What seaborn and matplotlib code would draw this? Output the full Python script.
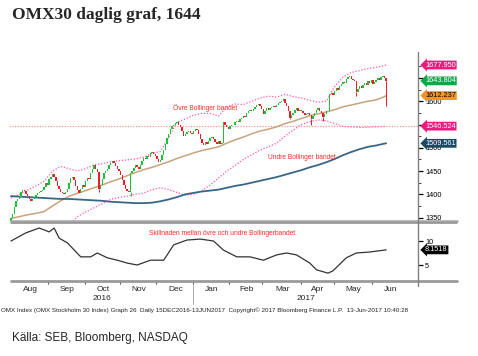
import numpy as np
import pandas as pd
import matplotlib
matplotlib.use("Agg")
import matplotlib.pyplot as plt
import matplotlib.transforms as mtransforms
from matplotlib.lines import Line2D
import seaborn as sns

# --- data ---
start_date = "2016-08-01"
end_date = "2017-06-13"

# daily closes, OMXS30
closes = [
    1348, 1358, 1372, 1385, 1390, 1395, 1404, 1410, 1408, 1400,
    1396, 1390, 1386, 1390, 1394, 1398, 1402, 1405, 1408, 1410,
    1416, 1424, 1421, 1432, 1438, 1443, 1438, 1428, 1418, 1412,
    1406, 1403, 1400, 1405, 1412, 1425, 1434, 1438, 1430, 1418,
    1410, 1402, 1412, 1420, 1416, 1428, 1436, 1432, 1446, 1455,
    1462, 1455, 1448, 1412, 1420, 1432, 1445, 1450, 1455, 1462,
    1468, 1472, 1468, 1460, 1455, 1450, 1442, 1430, 1420, 1412,
    1408, 1405, 1445, 1450, 1456, 1462, 1458, 1455, 1462, 1472,
    1478, 1476, 1483, 1481, 1488, 1490, 1486, 1482, 1476, 1470,
    1474, 1485, 1495, 1508, 1520, 1530, 1540, 1546, 1550, 1553,
    1556, 1550, 1545, 1535, 1526, 1530, 1534, 1536, 1532, 1530,
    1536, 1540, 1538, 1530, 1518, 1510, 1506, 1512, 1508, 1514,
    1520, 1524, 1518, 1512, 1508, 1514, 1508, 1510, 1555, 1550,
    1544, 1540, 1546, 1550, 1548, 1555, 1558, 1556, 1562, 1565,
    1568, 1566, 1574, 1578, 1582, 1578, 1584, 1588, 1592, 1594,
    1590, 1584, 1572, 1578, 1585, 1582, 1586, 1588, 1590, 1588,
    1592, 1596, 1598, 1600, 1604, 1596, 1590, 1580, 1565, 1570,
    1575, 1582, 1585, 1580, 1582, 1578, 1574, 1570, 1572, 1575,
    1570, 1562, 1568, 1575, 1582, 1585, 1580, 1574, 1566, 1572,
    1578, 1580, 1615, 1618, 1614, 1622, 1628, 1625, 1632, 1638,
    1642, 1640, 1648, 1652, 1654, 1648, 1645, 1643, 1620, 1626,
    1632, 1628, 1635, 1640, 1636, 1644, 1640, 1645, 1638, 1642,
    1646, 1650, 1645, 1652, 1655, 1650, 1643.804,
]
first_open = 1340

# long lower shadows that stand out
wick_day = [0, 53, 72, 168, 181, 188, 208, 226]
wick_low = [1338, 1405, 1397, 1561, 1550, 1558, 1612, 1590]

# indicator lines, sampled every 5th trading day plus the last day
band_step = 5
upper_band = [1392, 1400, 1409, 1418, 1428, 1450, 1460, 1455, 1450, 1455,
              1463, 1466, 1470, 1472, 1474, 1476, 1480, 1488, 1492, 1522,
              1555, 1562, 1570, 1574, 1574, 1568, 1588, 1594, 1593, 1600,
              1607, 1611, 1609, 1615, 1610, 1607, 1602, 1598, 1600, 1632,
              1652, 1662, 1666, 1670, 1673, 1677, 1677.950]
lower_band = [1255, 1245, 1240, 1238, 1245, 1262, 1300, 1335, 1352, 1362,
              1371, 1380, 1389, 1393, 1396, 1400, 1403, 1410, 1414, 1410,
              1404, 1398, 1400, 1408, 1420, 1435, 1450, 1462, 1475, 1485,
              1495, 1502, 1510, 1525, 1538, 1550, 1556, 1560, 1558, 1552,
              1546, 1545, 1544, 1544, 1545, 1546, 1546.524]
ma_short = [1348, 1352, 1356, 1359, 1363, 1375, 1386, 1396, 1402, 1408,
            1414, 1420, 1427, 1433, 1440, 1447, 1453, 1458, 1464, 1470,
            1477, 1483, 1489, 1494, 1498, 1502, 1510, 1517, 1523, 1530,
            1536, 1540, 1545, 1552, 1557, 1563, 1569, 1573, 1577, 1582,
            1588, 1592, 1596, 1600, 1603, 1610, 1612.237]
ma_long = [1396, 1395, 1394, 1393, 1392, 1391, 1390, 1390, 1389, 1388,
           1387, 1386, 1384, 1383, 1382, 1381, 1381, 1382, 1385, 1389,
           1394, 1400, 1403, 1406, 1408, 1410, 1414, 1418, 1421, 1425,
           1429, 1433, 1437, 1442, 1447, 1452, 1458, 1463, 1469, 1476,
           1484, 1491, 1497, 1502, 1505, 1509, 1509.561]

# bandwidth panel (trading day number, value)
width_day = [0, 9, 17, 23, 26, 29, 34, 42, 48, 52, 58, 64, 70, 76, 84, 92, 98,
             106, 114, 122, 128, 136, 144, 152, 160, 166, 172, 180, 184, 191,
             194, 202, 208, 216, 226]
width_vals = [10.0, 11.7, 12.7, 11.9, 12.7, 10.6, 9.6, 6.7, 6.7, 7.5, 6.5, 6.0,
              5.4, 5.0, 6.0, 6.0, 9.2, 10.2, 10.4, 10.0, 8.1, 6.7, 6.7, 6.0,
              7.1, 7.5, 7.1, 5.4, 4.0, 3.3, 3.8, 6.5, 7.5, 7.7, 8.1518]

tag_values = [1677.950, 1643.804, 1612.237, 1546.524, 1509.561]
tag_colors = ["#ec1a7e", "#16a34a", "#f7941d", "#ec1a7e", "#184a66"]
tag_text = ["white", "white", "black", "white", "white"]

price_ticks = [1350, 1400, 1450, 1500, 1550, 1600, 1650]
price_labels = ["1350", "1400", "1450", "1500", "", "1600", ""]  # 1550/1650 sit under tags

title = "OMX30 daglig graf, 1644"
label_upper = "Övre Bollinger bandet"
label_lower = "Undre Bollinger bandet"
label_width = "Skillnaden mellan övre och undre Bollingerbandet"
footer = ("OMX Index (OMX Stockholm 30 Index) Graph 26  Daily 15DEC2016-13JUN2017  "
          "Copyright\u00a9 2017 Bloomberg Finance L.P.  13-Jun-2017 10:40:28")
source = "Källa: SEB, Bloomberg, NASDAQ"

# --- setup ---
sns.set_theme(style="white")
plt.rcParams["font.family"] = ["Liberation Sans", "DejaVu Sans"]

days = pd.bdate_range(start_date, end_date)
n = len(days)
pos = np.arange(n)
c = np.array(closes, dtype=float)
o = np.r_[first_open, c[:-1]]
band_pos = np.r_[np.arange(0, n - 1, band_step), n - 1]

W, H = 478, 356
fig = plt.figure(figsize=(W / 100, H / 100), dpi=100)
fig.patch.set_facecolor("white")

def fx(px):
    return px / W

def fy(py):
    return 1 - py / H

ax1 = fig.add_axes([fx(9), fy(221), fx(409), (221 - 56) / H])
ax2 = fig.add_axes([fx(9), fy(280), fx(409), (280 - 223) / H], sharex=ax1)

xmax = (418 - 9) / 1.66 - 1.2
ax1.set_xlim(-1.2, xmax)
ax1.set_ylim(1342.6, 1697.3)
ax2.set_ylim(1.875, 13.75)

# --- candles ---
up = c >= o
cols = np.where(up, "#1fbf3a", "#ec1c24")
body_lo = np.minimum(o, c)
body_h = np.maximum(np.abs(c - o), 1.5)
ax1.bar(pos, body_h, bottom=body_lo, width=0.85, color=cols, linewidth=0, zorder=3)
wd = np.array(wick_day)
ax1.vlines(wd, wick_low, body_lo[wd], colors=cols[wd], linewidth=0.7, zorder=3)

# --- indicator lines ---
sns.lineplot(x=band_pos, y=upper_band, ax=ax1, color="#ff5aa8", linestyle=(0, (1, 1.4)), linewidth=0.9)
sns.lineplot(x=band_pos, y=lower_band, ax=ax1, color="#ff5aa8", linestyle=(0, (1, 1.4)), linewidth=0.9)
sns.lineplot(x=band_pos, y=ma_short, ax=ax1, color="#c9a27e", linewidth=1.1)
sns.lineplot(x=band_pos, y=ma_long, ax=ax1, color="#3a6686", linewidth=1.3)
ax1.axhline(tag_values[3], color="#f29a92", linestyle=(0, (1, 1.2)), linewidth=0.9, zorder=1)

ax1.text(117, 1586, label_upper, color="#ff2a2a", fontsize=4.8, ha="center", va="center")
ax1.text(175, 1480, label_lower, color="#ff2a2a", fontsize=4.8, ha="center", va="center")

# price tags on the right
blend1 = mtransforms.blended_transform_factory(ax1.transAxes, ax1.transData)
for val, col, tc in zip(tag_values, tag_colors, tag_text):
    ax1.text(1 + 7 / 409, val, f"{val:.3f}", transform=blend1, fontsize=5.3, color=tc,
             ha="left", va="center", clip_on=False, zorder=6,
             bbox=dict(boxstyle="larrow,pad=0.12", fc=col, ec="none"))

# --- bandwidth panel ---
sns.lineplot(x=width_day, y=width_vals, ax=ax2, color="#333333", linewidth=0.9)
ax2.text(127, 11.5, label_width, color="#ff2a2a", fontsize=4.8, ha="center", va="center")
blend2 = mtransforms.blended_transform_factory(ax2.transAxes, ax2.transData)
ax2.text(1 + 7 / 409, width_vals[-1], f"{width_vals[-1]:.4f}", transform=blend2, fontsize=5.3,
         color="white", ha="left", va="center", clip_on=False, zorder=6,
         bbox=dict(boxstyle="larrow,pad=0.12", fc="black", ec="none"))

# --- axes styling ---
for ax in (ax1, ax2):
    for s in ax.spines.values():
        s.set_visible(False)
    ax.set_facecolor("none")
    ax.yaxis.tick_right()
    ax.tick_params(axis="y", which="major", direction="out", length=3.5, width=0.9,
                   labelsize=5.3, pad=1.5, colors="black")
    ax.tick_params(axis="y", which="minor", direction="out", length=2, width=0.6, right=True)
    ax.grid(False)

ax1.set_yticks(price_ticks)
ax1.set_yticklabels(price_labels)
ax1.set_yticks(np.arange(1375, 1700, 50), minor=True)
ax2.set_yticks([5, 10])
ax1.tick_params(axis="x", which="both", bottom=False, labelbottom=False)

# month ticks
month_start = [i for i in range(n) if i == 0 or days[i].month != days[i - 1].month]
month_len = [len(pd.bdate_range(days[i].replace(day=1), days[i] + pd.offsets.MonthEnd(0)))
             for i in month_start]
month_mid = [s + m / 2 for s, m in zip(month_start, month_len)]
ax2.set_xticks(month_mid)
ax2.set_xticklabels([days[i].strftime("%b") for i in month_start], fontsize=6)
ax2.set_xticks([s - 0.5 for s in month_start[1:]], minor=True)
ax2.tick_params(axis="x", which="major", length=0, pad=4)
ax2.tick_params(axis="x", which="minor", bottom=True, direction="out", length=3, width=0.6)

# years under the months
blend_x = mtransforms.blended_transform_factory(ax2.transData, ax2.transAxes)
jan = [s for s in month_start if days[s].month == 1][0]
ax2.text((0 + jan) / 2, -0.33, "2016", transform=blend_x, fontsize=6, ha="center", va="center")
ax2.text((jan + xmax) / 2, -0.33, "2017", transform=blend_x, fontsize=6, ha="center", va="center")
ax2.plot([jan - 0.5, jan - 0.5], [-0.08, -0.42], color="#aaaaaa", linewidth=0.7, clip_on=False,
         transform=blend_x)

# panel frame lines
for y, lw, col in [(221, 1.8, "#a5a5a5"), (223.5, 1.1, "#8a8a8a"), (280.5, 2.0, "#9a9a9a")]:
    fig.add_artist(Line2D([fx(11), fx(457)], [fy(y), fy(y)], color=col, linewidth=lw))
fig.add_artist(Line2D([fx(418), fx(418)], [fy(52), fy(286)], color="#808080", linewidth=1.0))

# texts
fig.text(fx(12), fy(15), title, fontsize=12.5, fontweight="bold", family=["Liberation Serif", "DejaVu Serif"],
         ha="left", va="center")
fig.text(fx(1), fy(310), footer, fontsize=4.5, ha="left", va="center", color="#222222")
fig.text(fx(12), fy(338), source, fontsize=8.5, ha="left", va="center")

fig.savefig("out.png", dpi=100)
